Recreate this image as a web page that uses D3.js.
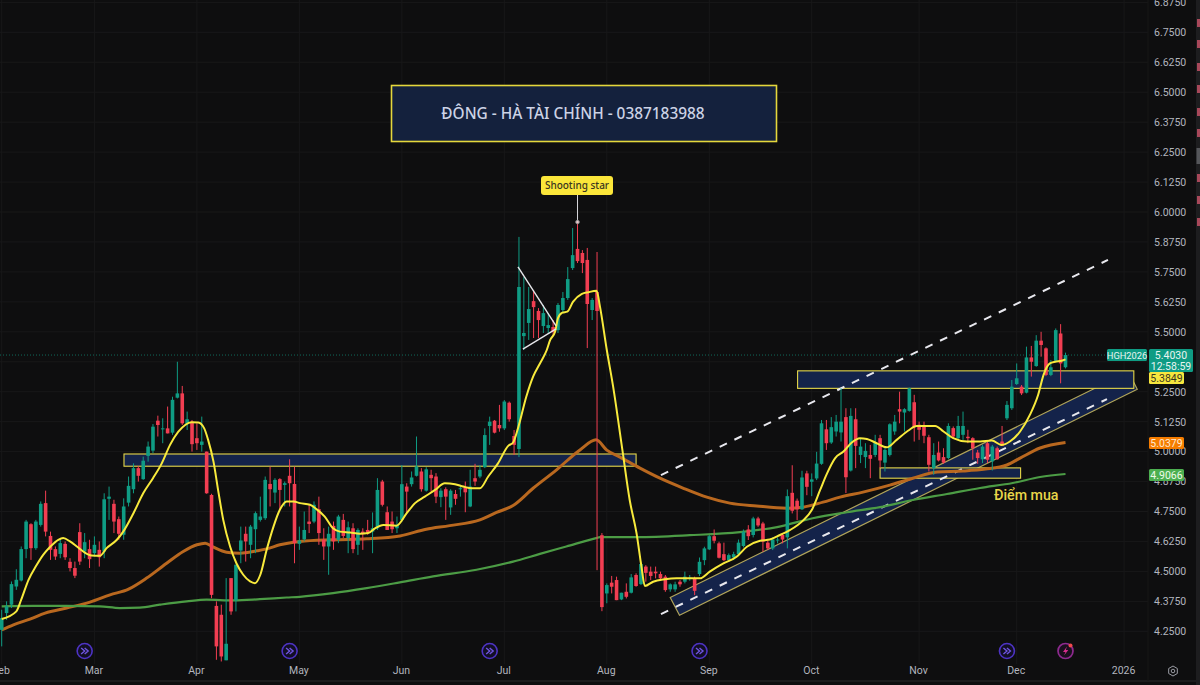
<!DOCTYPE html>
<html><head><meta charset="utf-8">
<script src="https://cdn.jsdelivr.net/npm/d3@7"></script>
<style>html,body{margin:0;padding:0;background:#0e0e0f;overflow:hidden}svg{display:block}text{font-family:Roboto,"Liberation Sans",sans-serif}</style>
</head><body><svg id="c" width="1200" height="685"></svg>
<script>
const opens=[4.256,4.326,4.361,4.437,4.462,4.593,4.697,4.597,4.694,4.785,
4.648,4.593,4.573,4.615,4.540,4.514,4.664,4.583,4.593,4.576,
4.590,4.583,4.803,4.782,4.718,4.653,4.787,4.843,4.931,4.885,
4.982,5.004,5.129,5.093,5.097,5.079,5.225,5.243,5.115,5.125,
5.056,5.028,5.000,4.819,4.356,4.319,4.129,4.472,4.379,4.587,
4.657,4.611,4.676,4.715,4.722,4.865,4.829,4.885,4.861,4.899,
4.865,4.615,4.634,4.708,4.708,4.760,4.632,4.604,4.690,4.632,
4.715,4.639,4.680,4.611,4.666,4.673,4.666,4.680,4.875,4.747,
4.708,4.680,4.715,4.854,4.864,4.899,4.917,4.837,4.903,4.896,
4.810,4.843,4.767,4.823,4.843,4.851,4.771,4.889,4.896,4.935,
5.107,5.129,5.111,5.097,5.204,5.065,5.011,5.482,5.537,5.628,
5.587,5.524,5.516,5.520,5.507,5.591,5.641,5.766,5.846,5.829,
5.800,5.591,5.666,4.651,4.408,4.453,4.464,4.383,4.415,4.411,
4.485,4.447,4.520,4.499,4.499,4.489,4.478,4.425,4.425,4.457,
4.457,4.468,4.471,4.489,4.547,4.592,4.647,4.617,4.572,4.547,
4.558,4.572,4.606,4.675,4.652,4.721,4.700,4.620,4.596,4.631,
4.652,4.642,4.828,4.795,4.759,4.909,4.874,4.888,4.949,5.093,
5.038,5.084,5.080,5.144,4.921,5.135,4.986,4.977,4.986,4.986,
5.056,4.954,4.986,5.084,5.177,5.163,5.170,5.206,5.112,5.105,
5.060,4.931,4.996,4.977,4.973,5.098,5.056,5.070,5.062,5.056,
4.996,4.968,5.035,4.959,5.014,5.042,5.139,5.181,5.282,5.271,
5.246,5.393,5.357,5.463,5.431,5.320,5.379,5.493,5.352];
const highs=[4.340,4.375,4.458,4.509,4.604,4.715,4.701,4.715,4.792,4.837,
4.666,4.604,4.639,4.625,4.555,4.541,4.701,4.660,4.632,4.646,
4.625,4.826,4.854,4.799,4.729,4.805,4.896,4.951,4.940,4.979,
5.042,5.115,5.150,5.139,5.188,5.229,5.375,5.274,5.167,5.132,
5.118,5.146,5.000,4.824,4.375,4.361,4.472,4.472,4.528,4.687,
4.687,4.694,4.750,4.812,4.896,4.937,4.889,4.889,4.875,4.968,
4.937,4.687,4.750,4.778,4.792,4.812,4.680,4.687,4.708,4.736,
4.740,4.708,4.701,4.680,4.680,4.715,4.746,4.889,4.882,4.771,
4.750,4.729,4.944,4.868,4.917,5.063,4.931,4.935,4.924,4.910,
4.847,4.851,4.843,4.840,4.854,4.875,4.924,4.949,4.944,5.097,
5.146,5.132,5.195,5.215,5.209,5.090,5.896,5.729,5.687,5.674,
5.599,5.612,5.578,5.549,5.620,5.666,5.770,5.933,5.958,5.841,
5.850,5.641,5.833,4.660,4.450,4.481,4.478,4.411,4.450,4.489,
4.492,4.540,4.526,4.520,4.520,4.499,4.485,4.450,4.457,4.464,
4.499,4.485,4.478,4.558,4.603,4.652,4.675,4.624,4.620,4.575,
4.582,4.633,4.675,4.693,4.728,4.728,4.707,4.631,4.642,4.642,
4.658,4.842,4.943,4.804,4.920,4.920,4.909,4.999,5.132,5.132,
5.144,5.153,5.264,5.181,5.181,5.181,5.056,5.035,5.028,5.070,
5.070,5.021,5.118,5.153,5.250,5.181,5.267,5.237,5.125,5.125,
5.070,5.035,5.042,5.014,5.118,5.105,5.149,5.167,5.091,5.060,
5.007,5.028,5.042,5.028,5.021,5.107,5.211,5.299,5.368,5.278,
5.438,5.441,5.486,5.500,5.435,5.382,5.514,5.532,5.413];
const lows=[4.187,4.298,4.347,4.423,4.458,4.555,4.548,4.590,4.687,4.646,
4.548,4.548,4.555,4.548,4.500,4.472,4.527,4.555,4.514,4.562,
4.520,4.555,4.715,4.660,4.632,4.632,4.771,4.826,4.875,4.882,
4.958,4.993,5.063,5.035,5.076,5.070,5.222,5.111,5.090,5.000,
5.007,5.000,4.824,4.388,4.131,4.124,4.129,4.319,4.333,4.534,
4.541,4.555,4.576,4.708,4.715,4.771,4.785,4.757,4.771,4.771,
4.534,4.590,4.625,4.660,4.701,4.611,4.548,4.486,4.590,4.618,
4.639,4.576,4.576,4.569,4.590,4.653,4.576,4.673,4.771,4.673,
4.660,4.660,4.708,4.743,4.854,4.896,4.833,4.833,4.833,4.785,
4.768,4.715,4.736,4.778,4.812,4.747,4.768,4.857,4.889,4.931,
5.028,5.076,5.083,5.090,5.125,4.986,4.977,5.424,5.466,5.474,
5.474,5.495,5.495,5.486,5.495,5.578,5.633,5.758,5.787,5.745,
5.432,5.549,4.505,4.334,4.367,4.408,4.380,4.380,4.387,4.408,
4.436,4.443,4.457,4.464,4.471,4.461,4.415,4.415,4.415,4.436,
4.450,4.461,4.401,4.481,4.526,4.589,4.617,4.554,4.543,4.540,
4.547,4.564,4.600,4.631,4.642,4.686,4.582,4.589,4.589,4.617,
4.617,4.596,4.742,4.714,4.756,4.818,4.814,4.881,4.945,5.007,
5.032,5.063,5.042,4.827,4.917,4.931,4.952,4.931,4.889,4.977,
4.931,4.917,4.980,5.070,5.118,5.084,5.167,5.042,5.049,5.035,
4.917,4.903,4.959,4.949,4.968,5.056,5.052,5.049,5.035,4.966,
4.949,4.952,4.952,4.921,4.966,5.024,5.132,5.174,5.278,5.236,
5.243,5.313,5.354,5.396,5.315,5.315,5.375,5.285,5.347];
const closes=[4.305,4.354,4.447,4.465,4.593,4.708,4.597,4.708,4.782,4.666,
4.590,4.562,4.618,4.559,4.514,4.482,4.541,4.622,4.551,4.611,
4.559,4.801,4.812,4.708,4.657,4.771,4.857,4.931,4.899,4.962,
5.021,5.104,5.111,5.097,5.076,5.216,5.243,5.118,5.135,5.031,
5.035,5.042,4.826,4.402,4.187,4.145,4.198,4.333,4.528,4.629,
4.625,4.687,4.743,4.729,4.882,4.843,4.882,4.840,4.868,4.868,
4.618,4.629,4.673,4.698,4.778,4.660,4.604,4.657,4.625,4.729,
4.648,4.684,4.593,4.673,4.657,4.662,4.680,4.840,4.778,4.673,
4.676,4.694,4.864,4.833,4.892,4.938,4.843,4.926,4.889,4.812,
4.837,4.812,4.837,4.803,4.847,4.830,4.854,4.875,4.924,5.069,
5.125,5.079,5.097,5.209,5.135,5.028,5.687,5.495,5.595,5.603,
5.549,5.578,5.528,5.499,5.612,5.641,5.720,5.820,5.795,5.787,
5.616,5.633,5.587,4.351,4.443,4.436,4.380,4.411,4.394,4.475,
4.439,4.531,4.494,4.481,4.492,4.471,4.422,4.446,4.446,4.446,
4.478,4.474,4.419,4.540,4.596,4.647,4.628,4.557,4.547,4.568,
4.572,4.620,4.665,4.647,4.721,4.692,4.624,4.596,4.633,4.633,
4.633,4.814,4.753,4.759,4.892,4.853,4.884,4.950,5.118,5.035,
5.102,5.125,5.125,4.893,5.149,5.024,5.021,5.003,4.970,5.038,
4.963,5.007,5.114,5.125,5.167,5.177,5.264,5.102,5.091,5.066,
4.945,4.986,4.963,4.954,5.107,5.063,5.107,5.107,5.056,5.014,
4.973,5.021,4.966,5.021,4.968,5.024,5.195,5.271,5.306,5.243,
5.393,5.375,5.463,5.445,5.320,5.352,5.507,5.368,5.403];

const yellowIdx=[0,3,4,5.5,7,8.5,10,11.6,12.6,14,15.4,16.7,18.4,20.1,21.5,23.6,24.9,27,29,31,32.8,34.5,36.2,37.6,38.9,40.3,41.5,42.3,43.4,44.4,45.4,46.8,48.1,49.5,50.9,51.9,53,54.3,55.7,57,58.4,59.8,61.1,63.2,64.5,66.2,67.9,69.3,71.4,73.4,75.1,76.5,78.2,80.9,83,84.7,86.7,88.8,90.8,92.9,94.6,96.3,98,99.7,101.7,103.8,104.8,105.8,107.5,108.9,110.3,111.7,112.4,113.4,114,114.9,115.9,117.1,118.9,120.2,121.9,122.6,124,125.3,127.2,128.7,130.1,131.1,131.8,133.5,135.9,138.3,141,143.1,145.1,147.9,150.6,152.7,155.4,157.4,159.5,161.5,164.3,166,167.7,169,170.8,172.5,174.2,175.9,177.3,179.3,181.4,183.4,185.8,187.5,191.3,193,195,197.8,200.5,202.9,204.9,206.6,208.7,210.7,212.4,213.5,214.8,215.9,217.2,218];
const yellowVal=[4.301,4.333,4.382,4.465,4.521,4.569,4.604,4.632,4.639,4.625,4.604,4.583,4.566,4.565,4.597,4.632,4.666,4.743,4.826,4.889,4.951,5.028,5.083,5.111,5.122,5.121,5.097,5.049,4.958,4.833,4.715,4.604,4.534,4.486,4.458,4.451,4.486,4.590,4.687,4.757,4.792,4.792,4.785,4.778,4.760,4.729,4.680,4.666,4.662,4.657,4.660,4.680,4.694,4.691,4.743,4.785,4.812,4.840,4.868,4.864,4.854,4.847,4.847,4.896,4.951,5.024,5.038,5.097,5.229,5.313,5.368,5.424,5.466,5.500,5.557,5.580,5.584,5.626,5.658,5.665,5.671,5.605,5.424,5.271,5.006,4.797,4.659,4.520,4.439,4.457,4.467,4.471,4.471,4.471,4.499,4.533,4.561,4.603,4.628,4.633,4.652,4.672,4.714,4.756,4.839,4.903,4.973,5.000,5.038,5.056,5.053,5.035,5.018,5.049,5.088,5.107,5.107,5.084,5.056,5.042,5.042,5.046,5.028,5.042,5.084,5.153,5.237,5.320,5.368,5.375,5.379,5.3849];
const orangeIdx=[0,2.4,5.8,8.9,13.3,18.1,22.2,26,29.7,33.8,37.2,40,41.7,43.4,46.1,48.8,52.3,54.3,57,59.8,61.1,67.9,74.8,81.6,87,91.8,98,101.4,104.8,108.9,113.7,118.5,121.8,124,126.7,130.8,134.9,139.6,144.5,149.2,154.7,160.9,164.2,168.3,171.8,176.5,182,186.7,191.7,197,201.6,206,208.7,212.8,218];
const orangeVal=[4.256,4.277,4.301,4.326,4.347,4.372,4.402,4.426,4.472,4.534,4.583,4.611,4.618,4.601,4.580,4.576,4.586,4.594,4.611,4.622,4.625,4.632,4.636,4.648,4.676,4.691,4.715,4.746,4.775,4.847,4.924,5.007,5.049,5.006,4.977,4.931,4.889,4.848,4.810,4.785,4.773,4.764,4.768,4.789,4.810,4.831,4.860,4.889,4.915,4.919,4.927,4.944,4.973,5.015,5.0379];
const greenIdx=[0,6.5,13.3,20.1,24.2,28.3,32.4,37.9,42,47.5,52.9,58.4,61.1,67.9,74.8,81.6,88.4,97.3,104.8,110.3,115.7,121.8,122.6,130.2,141,151.3,158.9,166.2,173.2,180,186.7,193.7,200.5,207.2,212.8,218];
const greenVal=[4.354,4.356,4.356,4.354,4.347,4.349,4.361,4.375,4.382,4.379,4.384,4.391,4.394,4.409,4.430,4.454,4.479,4.507,4.541,4.573,4.604,4.639,4.643,4.643,4.651,4.664,4.685,4.722,4.747,4.768,4.798,4.823,4.848,4.869,4.894,4.9066];

const priceTicks=[6.875,6.75,6.625,6.5,6.375,6.25,6.125,6,5.875,5.75,5.625,5.5,5.25,5.125,5,4.875,4.75,4.625,4.5,4.375,4.25];
const gridPrices=[6.875,6.75,6.625,6.5,6.375,6.25,6.125,6,5.875,5.75,5.625,5.5,5.375,5.25,5.125,5,4.875,4.75,4.625,4.5,4.375,4.25];
const monthIdx=[0,19,40,61,82,103,124,145,166,188,208,230];
const monthLabels=["Feb","Mar","Apr","May","Jun","Jul","Aug","Sep","Oct","Nov","Dec","2026"];
const markerIdx=[17,59,100,143,206];
const flashIdx=[218];
const zoneTitles=["ĐÔNG - HÀ TÀI CHÍNH - 0387183988","Shooting star","Điểm mua"];
const lastPrice=5.403;
const symbolName="HGH2026";
const countdown="12:58:59";
const maLabels=[5.3849,5.0379,4.9066];
const bands=[[25.06,130,4.990,4.939],[163.1,232,5.337,5.264],[180,208.8,4.932,4.889]];
const channelIdx=[137,138.9,232.7,230.9];
const channelVal=[4.391,4.317,5.260,5.333];
const dashLower=[[135.1,4.322],[226.5,5.219]];
const dashUpper=[[135.1,4.902],[226.7,5.800]];
const triangleA=[[105.8,5.771],[113.6,5.525]];
const triangleB=[[106.8,5.428],[113.6,5.512]];

const W=1200,H=685,bg="#0e0e0f",up="#0f9c84",down="#f23e52",yellow="#f8ea3c",axisC="#b2b5be",navy="#14234a";
const x=d3.scaleLinear().domain([0,218]).range([1.7,1065.5]);
const y=d3.scaleLinear().domain([6,4.25]).range([212,631.3]);
const svg=d3.select("#c");
svg.append("rect").attr("width",W).attr("height",H).attr("fill",bg);
svg.append("defs").append("clipPath").attr("id","plot").append("rect").attr("width",1148).attr("height",664);

// grid
svg.append("g").selectAll("line").data(gridPrices).join("line")
 .attr("x1",0).attr("x2",1148).attr("y1",d=>y(d)).attr("y2",d=>y(d)).attr("stroke","#181819");
svg.append("g").selectAll("line").data(monthIdx).join("line")
 .attr("x1",d=>x(d)).attr("x2",d=>x(d)).attr("y1",0).attr("y2",664).attr("stroke","#181819");
svg.append("line").attr("x1",0).attr("x2",1196).attr("y1",681).attr("y2",681).attr("stroke","#2a2a2c");
svg.append("line").attr("x1",1148).attr("x2",1148).attr("y1",0).attr("y2",681).attr("stroke","#161617");

// window edge strip on the far right
const stripMarks=[23,44,67,89,112,133,178,200,222];
svg.append("rect").attr("x",1196).attr("y",0).attr("width",4).attr("height",H).attr("fill","#1d1d1f");
svg.append("rect").attr("x",1196.5).attr("y",148).attr("width",3.5).attr("height",16).attr("fill","#55565a");
svg.append("g").selectAll("rect").data(stripMarks).join("rect")
 .attr("x",1197).attr("width",3).attr("y",d=>d-4).attr("height",8).attr("fill","#a8485a");

const plot=svg.append("g").attr("clip-path","url(#plot)");
// last price line
plot.append("line").attr("x1",0).attr("x2",1148).attr("y1",y(lastPrice)).attr("y2",y(lastPrice))
 .attr("stroke",up).attr("stroke-dasharray","1 2").attr("opacity",.65);

// channel + zones
const poly=d3.line().x(d=>x(d[0])).y(d=>y(d[1]));
plot.append("path").attr("d",poly(d3.zip(channelIdx,channelVal))+"Z").attr("fill",navy).attr("stroke","#b0a45a").attr("stroke-width",1.2);
plot.append("g").selectAll("rect").data(bands).join("rect")
 .attr("x",d=>x(d[0])).attr("width",d=>x(d[1])-x(d[0])).attr("y",d=>y(d[2])).attr("height",d=>y(d[3])-y(d[2]))
 .attr("fill",navy).attr("stroke","#e7d84a").attr("stroke-width",1.1);
[dashLower,dashUpper].forEach(l=>plot.append("path").attr("d",poly(l)).attr("fill","none").attr("stroke","#e8e8ee").attr("stroke-width",2).attr("stroke-dasharray","8 8.3"));

// MAs under yellow
const ma=(ix,vals)=>d3.line().x((d,i)=>x(ix[i])).y(d=>y(d)).curve(d3.curveMonotoneX)(vals);
plot.append("path").attr("d",ma(orangeIdx,orangeVal)).attr("fill","none").attr("stroke","#b9681f").attr("stroke-width",3);
plot.append("path").attr("d",ma(greenIdx,greenVal)).attr("fill","none").attr("stroke","#4c9c45").attr("stroke-width",2.2);

// candles
const idx=d3.range(opens.length);
const col=i=>closes[i]>=opens[i]?up:down;
const g=plot.append("g");
g.selectAll("line").data(idx).join("line").attr("x1",i=>x(i)).attr("x2",i=>x(i)).attr("y1",i=>y(highs[i])).attr("y2",i=>y(lows[i])).attr("stroke",col).attr("stroke-width",1);
g.selectAll("rect").data(idx).join("rect").attr("x",i=>x(i)-1.8).attr("width",3.6)
 .attr("y",i=>y(Math.max(opens[i],closes[i]))).attr("height",i=>Math.max(1,Math.abs(y(opens[i])-y(closes[i])))).attr("fill",col);

plot.append("path").attr("d",ma(yellowIdx,yellowVal)).attr("fill","none").attr("stroke",yellow).attr("stroke-width",2).attr("stroke-linejoin","round");

// triangle
[triangleA,triangleB].forEach(l=>plot.append("path").attr("d",poly(l)).attr("fill","none").attr("stroke","#e6e6ea").attr("stroke-width",1.4));

// title box
svg.append("rect").attr("x",391.5).attr("y",85.5).attr("width",385).attr("height",56).attr("fill","#14213d").attr("stroke","#e4d73c").attr("stroke-width",1.6);
svg.append("text").attr("x",573).attr("y",119).attr("text-anchor","middle").attr("fill","#ccd3e6").attr("font-size",15.4).attr("font-weight",500).style("font-family","'Noto Sans',sans-serif").text(zoneTitles[0]);

// shooting star
const starI=118, starP=highs[starI];
svg.append("line").attr("x1",x(starI)).attr("x2",x(starI)).attr("y1",194).attr("y2",y(starP)).attr("stroke","#d8d8dc").attr("stroke-width",1);
svg.append("circle").attr("cx",x(starI)).attr("cy",y(starP)).attr("r",1.8).attr("fill","#e6c8cc").attr("stroke","#888");
svg.append("rect").attr("x",541).attr("y",176).attr("width",72).attr("height",19).attr("rx",3).attr("fill","#fbe63a");
svg.append("text").attr("x",577).attr("y",189).attr("text-anchor","middle").attr("fill","#3a3520").attr("font-size",10).attr("font-weight",500).style("font-family","'Noto Sans',sans-serif").text(zoneTitles[1]);
svg.append("text").attr("x",994).attr("y",500).attr("fill","#e9d64a").attr("font-size",14.2).attr("font-weight",500).text(zoneTitles[2]);

// axes
const ay=d3.axisRight(y).tickValues(priceTicks).tickFormat(d3.format(".4f")).tickSize(0).tickPadding(0);
const ayG=svg.append("g").attr("transform","translate(1154,0)").call(ay);
ayG.select(".domain").remove();
ayG.selectAll("text").attr("fill",axisC).attr("font-size",10.5).style("font-family","Roboto,sans-serif");
const ax=d3.axisBottom(x).tickValues(monthIdx).tickFormat((d,i)=>monthLabels[i]).tickSize(0).tickPadding(0);
const axG=svg.append("g").attr("transform","translate(-1,667)").call(ax);
axG.select(".domain").remove();
axG.selectAll("text").attr("fill",axisC).attr("font-size",10.5).style("font-family","Roboto,sans-serif");

// right labels
function tag(xx,yy,w,h,fill,lines,color,fs){
 svg.append("rect").attr("x",xx).attr("y",yy).attr("width",w).attr("height",h).attr("rx",1.5).attr("fill",fill);
 lines.forEach((t,k)=>svg.append("text").attr("x",xx+w/2).attr("y",yy+9.5+k*11).attr("text-anchor","middle").attr("fill",color).attr("font-size",fs||10.5).text(t));
}
tag(1107,349,40,12,"#0f9c84",[symbolName],"#e8f4f1",9.3);
tag(1149,349,44,23,"#0f9c84",[d3.format(".4f")(lastPrice),countdown],"#e8f4f1");
tag(1149,372,35,12,"#f7e63e",[d3.format(".4f")(maLabels[0])],"#3b3720");
tag(1149,437,35,12,"#f57c00",[d3.format(".4f")(maLabels[1])],"#ffe9d0");
tag(1149,469,35,12,"#4caf50",[d3.format(".4f")(maLabels[2])],"#eefbe9");

// bottom icons
const my=651;
markerIdx.forEach(i=>{
 const s=svg.append("g").attr("transform",`translate(${x(i)},${my})`);
 s.append("circle").attr("r",7.5).attr("fill","#120f24").attr("stroke","#4d33c4").attr("stroke-width",1.6);
 s.append("path").attr("d","M-3.5,-3L0,0L-3.5,3M0,-3L3.5,0L0,3").attr("fill","none").attr("stroke","#6f55e0").attr("stroke-width",1.4);
});
flashIdx.forEach(i=>{
 const s=svg.append("g").attr("transform",`translate(${x(i)},${my})`);
 s.append("circle").attr("r",7.5).attr("fill","#1a0f1e").attr("stroke","#8e2a8f").attr("stroke-width",1.7);
 s.append("path").attr("d","M1.5,-4.5L-2.5,1H0L-1.5,4.5L2.8,-1H0.3Z").attr("fill","#d62d8e");
 s.append("circle").attr("cx",5).attr("cy",-5.5).attr("r",2).attr("fill","#f0484e");
});
const gear=svg.append("g").attr("transform","translate(1173,671)");
gear.append("path").attr("d",d3.line()(d3.range(6).map(k=>[5*Math.cos(k*Math.PI/3+Math.PI/6),5*Math.sin(k*Math.PI/3+Math.PI/6)]))+"Z").attr("fill","none").attr("stroke","#9a9ca4").attr("stroke-width",1);
gear.append("circle").attr("r",1.8).attr("fill","none").attr("stroke","#9a9ca4").attr("stroke-width",1);
</script></body></html>
